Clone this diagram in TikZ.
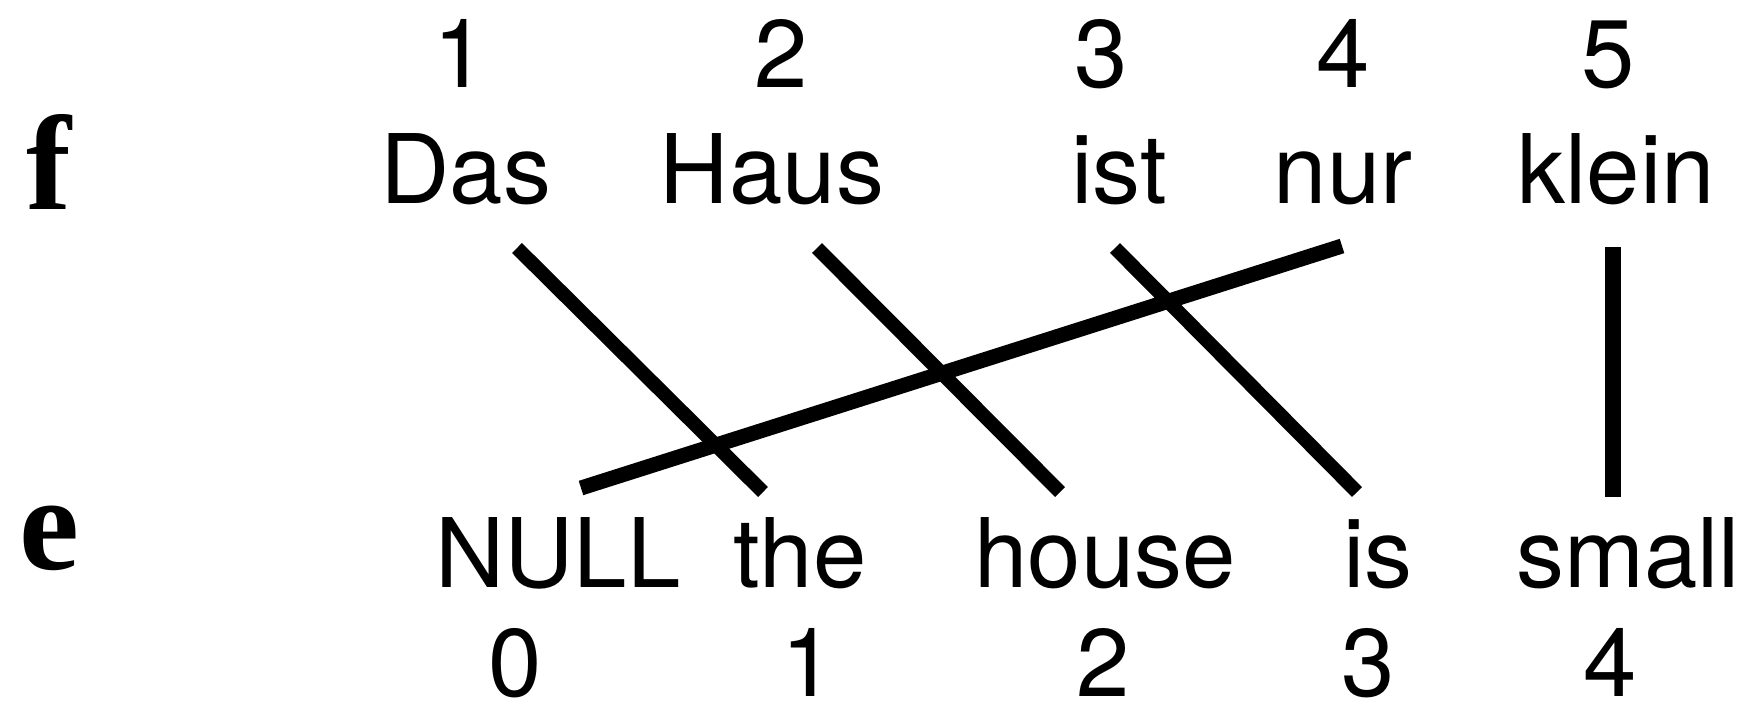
\documentclass[tikz,border=0pt]{standalone}
\usepackage{fontspec}
\setmainfont{TeX Gyre Heros}
\newfontfamily\labelfont{Liberation Serif}
\begin{document}
\begin{tikzpicture}[x=1pt,y=-1pt,
  word/.style={inner sep=0pt,anchor=base,font=\fontsize{96}{96}\selectfont},
  side/.style={inner sep=0pt,anchor=base,font=\labelfont\bfseries\fontsize{135}{135}\selectfont},
  link/.style={line width=14pt,line cap=butt},
  thicklink/.style={line width=15pt,line cap=butt},
  vlink/.style={line width=15.5pt,line cap=butt}]
\useasboundingbox (0,0) rectangle (1747,701);
% side labels
\node[side] (f) at (49,209) {f};
\node[side] (e) at (49,569) {e};
% top indices
\node[word] (fn1) at (460,88) {1};
\node[word] (fn2) at (781,88) {2};
\node[word] (fn3) at (1101,88) {3};
\node[word] (fn4) at (1343,88) {4};
\node[word] (fn5) at (1608,88) {5};
% top words
\node[word] (das) at (466,203) {Das};
\node[word] (haus) at (772,203) {Haus};
\node[word] (ist) at (1119,203) {ist};
\node[word] (nur) at (1343,203) {nur};
\node[word] (klein) at (1616,203) {klein};
% bottom words
\node[word] (null) at (558,587) {NULL};
\node[word] (the) at (800,587) {the};
\node[word] (house) at (1105,587) {house};
\node[word] (is) at (1378,587) {is};
\node[word] (small) at (1628,587) {small};
% bottom indices
\node[word] (en0) at (515,696) {0};
\node[word] (en1) at (808,696) {1};
\node[word] (en2) at (1103,696) {2};
\node[word] (en3) at (1368,696) {3};
\node[word] (en4) at (1610,696) {4};
% connector end points
\coordinate (das-a) at (517,248);
\coordinate (the-a) at (763,492);
\coordinate (haus-a) at (817,248);
\coordinate (house-a) at (1060,492);
\coordinate (ist-a) at (1115,248);
\coordinate (is-a) at (1357,492);
\coordinate (nur-a) at (1342,246);
\coordinate (null-a) at (581,488);
\coordinate (klein-a) at (1613,247);
\coordinate (small-a) at (1613,497);
% alignments
\draw[link] (das-a) -- (the-a);
\draw[link] (haus-a) -- (house-a);
\draw[link] (ist-a) -- (is-a);
\draw[thicklink] (nur-a) -- (null-a);
\draw[vlink] (klein-a) -- (small-a);
\end{tikzpicture}
\end{document}
